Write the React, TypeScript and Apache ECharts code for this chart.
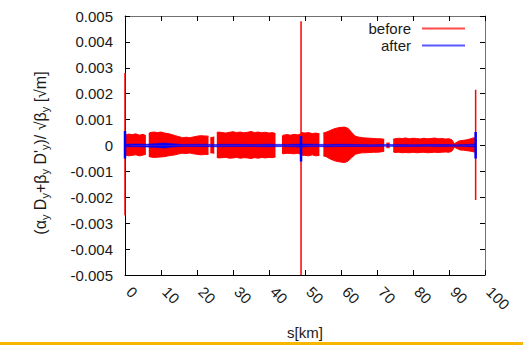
import React, { useEffect, useRef } from "react";
import * as echarts from "echarts";

// s [km], upper value, lower value (null = gap in the band)
const beforeEnvelope: [number, number | null, number | null][] = [
  [0, 0.0004, -0.00036], [1, 0.00044, -0.0004], [2, 0.00042, -0.00038], [3, 0.00045, -0.00036],
  [4, 0.0004, -0.0004], [5, 0.00043, -0.00037], [5.8, 0.00038, -0.00034], [6.2, null, null],
  [6.6, 0.00046, -0.00042], [7, 0.0005, -0.00044], [8, 0.00052, -0.00046], [9, 0.0005, -0.00045],
  [10, 0.00052, -0.00044], [11, 0.00048, -0.00043], [12, 0.00046, -0.0004], [13, 0.00042, -0.00038],
  [14, 0.00038, -0.00036], [15, 0.00034, -0.00032], [16, 0.0003, -0.0003], [17, 0.00032, -0.00031],
  [18, 0.0003, -0.00029], [19, 0.00033, -0.00032], [20, 0.00036, -0.00034], [21, 0.00038, -0.00036],
  [22, 0.00037, -0.00035], [23.2, 0.00036, -0.00034], [23.45, null, null], [23.7, 0.0003, -0.00028],
  [24.8, 0.00033, -0.0003], [25.15, null, null], [25.5, 0.0005, -0.00046], [26, 0.00052, -0.00048],
  [27, 0.0005, -0.00047], [28, 0.00048, -0.00046], [29, 0.00051, -0.00049], [30, 0.00053, -0.00048],
  [31, 0.0005, -0.00046], [32, 0.00052, -0.00049], [33, 0.00049, -0.00047], [34, 0.00051, -0.00048],
  [35, 0.00054, -0.0005], [36, 0.0005, -0.00047], [37, 0.00052, -0.00049], [38, 0.00049, -0.00046],
  [39, 0.00051, -0.00048], [40, 0.00048, -0.00046], [41, 0.0005, -0.00047], [41.8, 0.00046, -0.00044],
  [42.7, null, null], [43.6, 0.00036, -0.0003], [44, 0.0004, -0.00032], [45, 0.00042, -0.0003],
  [46, 0.0004, -0.00031], [47, 0.00043, -0.00032], [48, 0.00041, -0.0003], [48.9, 0.00045, -0.00035],
  [49, 0.0005, -0.00038], [50, 0.00048, -0.00038], [51, 0.0005, -0.0004], [52, 0.00046, -0.00036],
  [53, 0.00048, -0.0004], [54, 0.00045, -0.00038], [54.6, null, null], [55.1, 0.00048, -0.0004],
  [56, 0.00052, -0.00044], [57, 0.00058, -0.00052], [58, 0.00064, -0.00058], [59, 0.00068, -0.00062],
  [60, 0.0007, -0.00064], [61, 0.00071, -0.00066], [62, 0.00066, -0.0006], [63, 0.0005, -0.00046],
  [64, 0.00036, -0.00034], [65, 0.00032, -0.0003], [66, 0.0003, -0.00028], [67, 0.00029, -0.00028],
  [68, 0.00028, -0.00027], [69, 0.00027, -0.00026], [70, 0.00026, -0.00026], [71, 0.00026, -0.00025],
  [72, 0.00024, -0.00022], [72.3, null, null], [72.6, 0.00009, -0.00008], [73.5, 0.0001, -0.00009],
  [73.9, null, null], [74.5, 0.00024, -0.00024], [75, 0.00026, -0.00027], [76, 0.00028, -0.00026],
  [77, 0.00027, -0.00028], [78, 0.00029, -0.00027], [79, 0.00026, -0.00028], [80, 0.00028, -0.00026],
  [81, 0.00027, -0.00028], [82, 0.00025, -0.00027], [83, 0.00028, -0.00026], [84, 0.00026, -0.00028],
  [85, 0.00027, -0.00027], [86, 0.00029, -0.00026], [87, 0.00026, -0.00027], [88, 0.00027, -0.00026],
  [89, 0.00025, -0.00025], [90, 0.00026, -0.00026], [90.8, 0.00022, -0.00022], [91.5, 0.00007, -0.00007],
  [92.6, 0.00016, -0.00014], [93, 0.00018, -0.00017], [94, 0.0002, -0.00018], [95, 0.00022, -0.0002],
  [96, 0.00026, -0.00022], [97, 0.0003, -0.00025], [97.4, 0.00031, -0.00026],
];

const afterEnvelope: [number, number, number][] = [
  [0, 0.00005, -0.00005], [3, 0.00006, -0.00005], [6, 0.00005, -0.00006], [9, 0.00008, -0.00008],
  [11, 0.0001, -0.0001], [13, 0.00007, -0.00006], [16, 0.00004, -0.00004], [20, 0.00005, -0.00004],
  [25, 0.00004, -0.00005], [30, 0.00005, -0.00004], [35, 0.00004, -0.00004], [40, 0.00005, -0.00005],
  [45, 0.00004, -0.00004], [48.9, 0.00006, -0.00006], [52, 0.00005, -0.00004], [56, 0.00004, -0.00005],
  [60, 0.00005, -0.00004], [64, 0.00004, -0.00004], [68, 0.00003, -0.00004], [72, 0.00004, -0.00003],
  [76, 0.00004, -0.00004], [80, 0.00003, -0.00004], [84, 0.00004, -0.00003], [88, 0.00004, -0.00004],
  [92, 0.00003, -0.00003], [95, 0.00004, -0.00004], [97.4, 0.00006, -0.00006],
];

// s [km], top, bottom of the isolated spikes
const beforeSpikes: [number, number, number][] = [
  [0, 0.0028, -0.0027],
  [48.9, 0.0048, -0.005],
  [97.4, 0.00215, -0.0021],
];
const afterSpikes: [number, number, number][] = [
  [0, 0.00056, -0.0005],
  [48.9, 0.00037, -0.00062],
  [97.4, 0.00052, -0.0005],
];

const RED = "#ff0000";
const BLUE = "#0000ff";
const TEXT = "#1a1a1a";
const FONT = "'Liberation Sans', Arial, sans-serif";

function bandSeries(
  name: string,
  color: string,
  width: number,
  env: [number, number | null, number | null][]
) {
  const common = {
    type: "line" as const,
    name,
    symbol: "none",
    silent: true,
    connectNulls: false,
    color,
    lineStyle: { color, width },
    areaStyle: { color, opacity: 1 },
    itemStyle: { color },
  };
  return [
    { ...common, data: env.map((r) => [r[0], r[1] === null ? "-" : r[1]]) },
    { ...common, data: env.map((r) => [r[0], r[2] === null ? "-" : r[2]]) },
  ];
}

function spikeSeries(name: string, color: string, width: number, spikes: [number, number, number][]) {
  return spikes.map((sp) => ({
    type: "line" as const,
    name,
    symbol: "none",
    silent: true,
    color,
    itemStyle: { color },
    lineStyle: { color, width },
    data: [
      [sp[0], sp[1]],
      [sp[0], sp[2]],
    ],
  }));
}

export default function App() {
  const ref = useRef<HTMLDivElement>(null);
  useEffect(() => {
    if (!ref.current) return;
    const chart = echarts.init(ref.current, undefined, { renderer: "svg" });
    const tickStyle = { show: true, inside: true, length: 5, lineStyle: { color: "#000", width: 1 } };
    chart.setOption({
      animation: false,
      backgroundColor: "#fff",
      textStyle: { fontFamily: FONT },
      grid: { left: 125, top: 16, width: 360, height: 267, containLabel: false },
      legend: {
        orient: "vertical",
        align: "right",
        right: 58,
        top: 20,
        padding: 0,
        itemGap: 0,
        itemWidth: 43,
        itemHeight: 2,
        icon: "rect",
        textStyle: { fontSize: 15, color: TEXT, fontFamily: FONT, padding: [0, 6, 0, 0], lineHeight: 17 },
        data: [
          { name: "before", itemStyle: { color: "#ff4a4a" } },
          { name: "after", itemStyle: { color: "#5a5aff" } },
        ],
      },
      xAxis: [
        {
          type: "value",
          min: 0,
          max: 100,
          interval: 10,
          name: "s[km]",
          nameLocation: "middle",
          nameGap: 50,
          nameTextStyle: { fontSize: 15, color: TEXT, fontFamily: FONT },
          axisLine: { onZero: false, lineStyle: { color: "#000", width: 1 } },
          axisTick: tickStyle,
          splitLine: { show: false },
          axisLabel: {
            rotate: -45,
            margin: 10,
            fontSize: 15,
            color: TEXT,
            fontFamily: FONT,
            padding: [0, 0, 0, 6],
          },
        },
        {
          type: "value",
          position: "top",
          min: 0,
          max: 100,
          interval: 10,
          axisLine: { onZero: false, lineStyle: { color: "#707070", width: 1 } },
          axisTick: tickStyle,
          axisLabel: { show: false },
          splitLine: { show: false },
        },
      ],
      yAxis: [
        {
          type: "value",
          min: -0.005,
          max: 0.005,
          interval: 0.001,
          axisLine: { show: true, onZero: false, lineStyle: { color: "#000", width: 1 } },
          axisTick: tickStyle,
          splitLine: { show: false },
          axisLabel: {
            margin: 12,
            fontSize: 15,
            color: TEXT,
            fontFamily: FONT,
            formatter: (v: number) => (Math.abs(v) < 1e-12 ? "0" : v.toFixed(3)),
          },
        },
        {
          type: "value",
          position: "right",
          min: -0.005,
          max: 0.005,
          interval: 0.001,
          axisLine: { show: true, onZero: false, lineStyle: { color: "#707070", width: 1 } },
          axisTick: tickStyle,
          axisLabel: { show: false },
          splitLine: { show: false },
        },
      ],
      graphic: [
        {
          type: "text",
          x: 40,
          y: 153,
          rotation: Math.PI / 2,
          silent: true,
          style: {
            text: "(α{s|y} D{s|y}+β{s|y} D'{s|y})/ √β{s|y} [√m]",
            fontSize: 16,
            fontFamily: FONT,
            fill: TEXT,
            align: "center",
            verticalAlign: "middle",
            rich: {
              s: { fontSize: 11, fontFamily: FONT, fill: TEXT, verticalAlign: "middle", padding: [9, 0, 0, 0] },
            },
          },
        },
        {
          type: "rect",
          left: 0,
          top: 342,
          silent: true,
          shape: { width: 523, height: 3 },
          style: { fill: "#f5b700" },
        },
      ],
      series: [
        ...bandSeries("before", RED, 1, beforeEnvelope),
        ...spikeSeries("before", RED, 1.5, beforeSpikes),
        ...bandSeries("after", BLUE, 0.5, afterEnvelope),
        ...spikeSeries("after", BLUE, 2.5, afterSpikes),
      ],
    });
    return () => chart.dispose();
  }, []);
  return (
    <div
      ref={ref}
      style={{ position: "fixed", left: 0, top: 0, width: 523, height: 345, background: "#fff" }}
    />
  );
}
